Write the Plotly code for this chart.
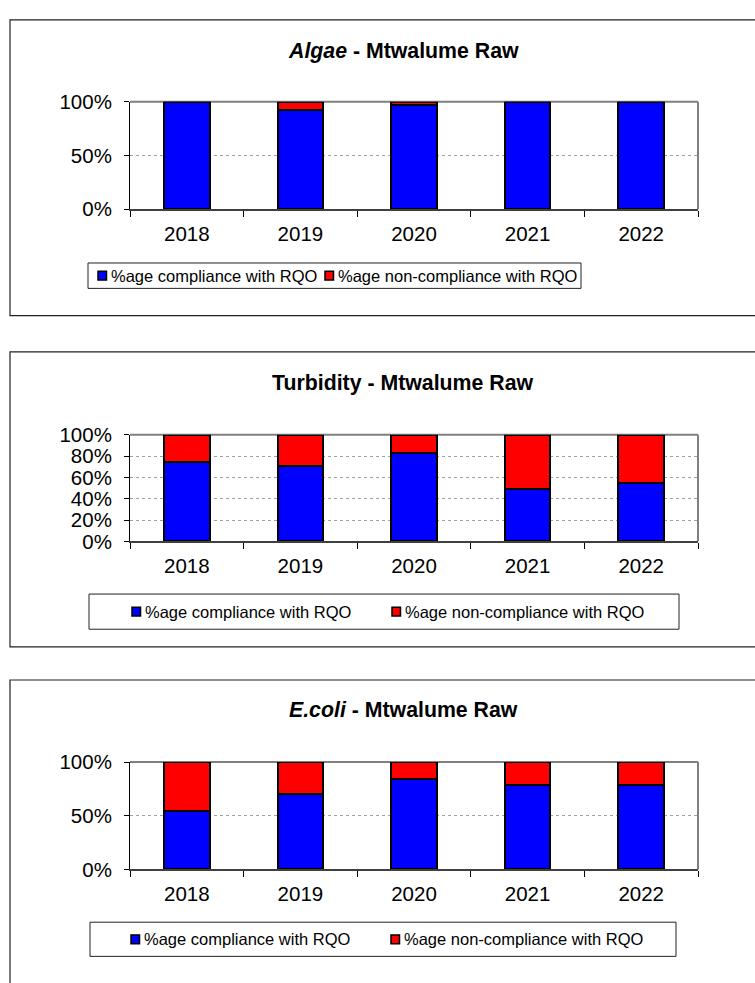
import plotly.graph_objects as go

W, H = 755, 983

years = ["2018", "2019", "2020", "2021", "2022"]

algae_comp = [100.0, 92.3, 97.5, 100.0, 100.0]
algae_non = [0.0, 7.7, 2.5, 0.0, 0.0]

turb_comp = [74.3, 70.6, 82.6, 49.5, 54.4]
turb_non = [25.7, 29.4, 17.4, 50.5, 45.6]

ecoli_comp = [54.5, 70.6, 84.5, 78.8, 78.8]
ecoli_non = [45.5, 29.4, 15.5, 21.2, 21.2]

titles = [
    "<b><i>Algae</i> - Mtwalume Raw</b>",
    "<b>Turbidity - Mtwalume Raw</b>",
    "<b><i>E.coli</i> - Mtwalume Raw</b>",
]
y_ticks = [[0, 50, 100], [0, 20, 40, 60, 80, 100], [0, 50, 100]]
series_names = ["%age compliance with RQO", "%age non-compliance with RQO"]

FONT = "Liberation Sans, Arial, sans-serif"
BLUE = "#0000FF"
RED = "#FF0000"
COLORS = [BLUE, RED]


def px_x(x):
    return x / W


def px_y(y):
    return 1 - y / H


# layout geometry in pixels
plot_x = (130, 698)
plot_y = [(92, 202), (433, 542), (768, 878)]
title_y = [40, 380, 715]
panel_box = [(8, 311), (348, 650), (684, 995)]
legend_box = [(88, 581, 257, 283), (89, 679, 596, 632), (90, 676, 932, 967)]
legend_text_x = [(110, 337), (144, 404), (143, 403)]

data = [(algae_comp, algae_non), (turb_comp, turb_non), (ecoli_comp, ecoli_non)]

fig = go.Figure()
shapes = []
annotations = []

for i, (comp, non) in enumerate(data):
    sfx = "" if i == 0 else str(i + 1)
    xa, ya = "x" + sfx, "y" + sfx
    for vals, name, col in zip((comp, non), series_names, COLORS):
        fig.add_trace(go.Bar(
            x=years, y=vals, name=name, xaxis=xa, yaxis=ya,
            marker=dict(color=col, line=dict(color="black", width=2)),
            showlegend=False, hoverinfo="skip"))

    top, bot = plot_y[i]
    fig.layout["xaxis" + sfx] = dict(
        domain=[px_x(plot_x[0]), px_x(plot_x[1])], anchor=ya,
        type="category", tickson="boundaries", ticks="outside", ticklen=6,
        tickcolor="black", showline=True, linecolor="#404040", linewidth=1.5,
        showgrid=False, tickfont=dict(family=FONT, size=20.5, color="black"),
        ticklabelstandoff=5, fixedrange=True)
    fig.layout["yaxis" + sfx] = dict(
        domain=[px_y(bot), px_y(top)], anchor=xa, range=[0, 100],
        tickmode="array", tickvals=y_ticks[i],
        ticktext=[f"{v}%" for v in y_ticks[i]], ticks="outside", ticklen=5,
        tickcolor="black", showline=True, linecolor="black", linewidth=1,
        showgrid=True, gridcolor="#a0a0a0", griddash="dot", gridwidth=1,
        zeroline=False, tickfont=dict(family=FONT, size=20.5, color="black"),
        ticklabelstandoff=8, fixedrange=True)

    # grey frame on top and right of plot area
    shapes.append(dict(type="line", xref=xa + " domain", yref=ya + " domain",
                       x0=0, x1=1, y0=1, y1=1, line=dict(color="#808080", width=2), layer="below"))
    shapes.append(dict(type="line", xref=xa + " domain", yref=ya + " domain",
                       x0=1, x1=1, y0=0, y1=1, line=dict(color="#808080", width=2), layer="below"))

    # panel border
    pt, pb = panel_box[i]
    shapes.append(dict(type="rect", xref="paper", yref="paper",
                       x0=px_x(10), x1=px_x(770), y0=px_y(pb), y1=px_y(pt),
                       line=dict(color="#222222", width=1.2), fillcolor="rgba(0,0,0,0)"))
    # legend frame
    lx0, lx1, ly0, ly1 = legend_box[i]
    shapes.append(dict(type="rect", xref="paper", yref="paper",
                       x0=px_x(lx0), x1=px_x(lx1), y0=px_y(ly1), y1=px_y(ly0),
                       line=dict(color="#222222", width=1), fillcolor="rgba(0,0,0,0)"))
    # legend entries
    ly = (ly0 + ly1) / 2
    for tx, name, col in zip(legend_text_x[i], series_names, COLORS):
        shapes.append(dict(type="rect", xref="paper", yref="paper",
                           x0=px_x(tx - 12), x1=px_x(tx - 3.5),
                           y0=px_y(ly + 4.5), y1=px_y(ly - 4.5),
                           line=dict(color="black", width=1.5), fillcolor=col))
        annotations.append(dict(text=name, xref="paper", yref="paper",
                                x=px_x(tx), y=px_y(ly), xanchor="left", yanchor="middle",
                                showarrow=False, borderpad=0,
                                font=dict(family=FONT, size=16.5, color="black")))

    annotations.append(dict(text=titles[i], xref="paper", yref="paper",
                            x=px_x(403), y=px_y(title_y[i]), xanchor="center", yanchor="middle",
                            showarrow=False, font=dict(family=FONT, size=21.3, color="black")))

fig.update_layout(
    width=W, height=H, margin=dict(l=0, r=0, t=0, b=0),
    paper_bgcolor="white", plot_bgcolor="white",
    barmode="stack", bargap=0.6, showlegend=False,
    shapes=shapes, annotations=annotations,
)

fig.write_html("out.html", config={"displayModeBar": False},
               post_script="document.body.style.margin='0';document.body.style.overflow='hidden';")
